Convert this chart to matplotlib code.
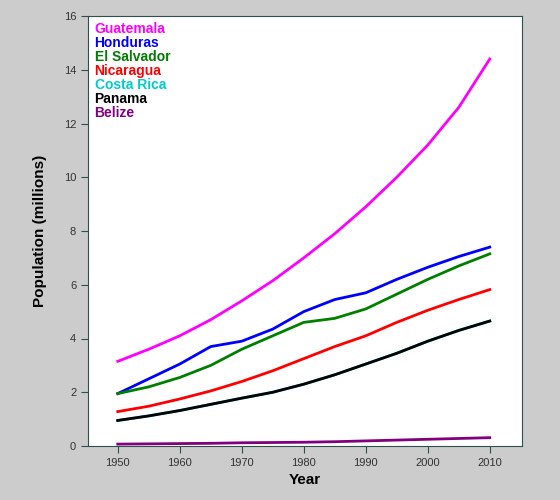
import matplotlib
matplotlib.use("Agg")
import matplotlib.pyplot as plt

years = [1950, 1955, 1960, 1965, 1970, 1975, 1980, 1985, 1990, 1995, 2000, 2005, 2010]
guatemala = [3.15, 3.6, 4.1, 4.7, 5.4, 6.15, 7.0, 7.9, 8.9, 10.0, 11.2, 12.6, 14.4]
honduras = [1.95, 2.5, 3.05, 3.7, 3.9, 4.35, 5.0, 5.45, 5.7, 6.2, 6.65, 7.05, 7.4]
el_salvador = [1.95, 2.2, 2.55, 3.0, 3.6, 4.1, 4.6, 4.75, 5.1, 5.65, 6.2, 6.7, 7.15]
nicaragua = [1.28, 1.48, 1.75, 2.05, 2.4, 2.8, 3.25, 3.7, 4.1, 4.6, 5.05, 5.45, 5.82]
costa_rica = [0.95, 1.12, 1.32, 1.55, 1.78, 2.0, 2.3, 2.65, 3.05, 3.45, 3.9, 4.3, 4.65]
panama = [0.95, 1.12, 1.32, 1.55, 1.78, 2.0, 2.3, 2.65, 3.05, 3.45, 3.9, 4.3, 4.65]
belize = [0.07, 0.08, 0.09, 0.1, 0.12, 0.13, 0.14, 0.16, 0.19, 0.22, 0.25, 0.28, 0.31]

series = [
    ("Guatemala", guatemala, "#ff00ff"),
    ("Honduras", honduras, "#0000ff"),
    ("El Salvador", el_salvador, "#008000"),
    ("Nicaragua", nicaragua, "#ff0000"),
    ("Costa Rica", costa_rica, "#00cccc"),
    ("Panama", panama, "#000000"),
    ("Belize", belize, "#800080"),
]

plt.rcParams["font.family"] = ["Liberation Sans", "DejaVu Sans"]
fig = plt.figure(figsize=(5.6, 5.0), dpi=100, facecolor="#cccccc")
ax = fig.add_axes([88 / 560, 54 / 500, 434 / 560, 430 / 500])
ax.set_facecolor("white")

for i, (name, vals, color) in enumerate(series):
    ax.plot(years, vals, color=color, lw=2)
    ax.text(0.015, 0.985 - i * 0.0325, name, transform=ax.transAxes, color=color,
            fontsize=10, fontweight="bold", va="top", ha="left")

ax.set_xlim(1945.2, 2015.2)
ax.set_ylim(0, 16)
ax.set_xticks(range(1950, 2011, 10))
ax.set_yticks(range(0, 17, 2))
for s in ax.spines.values():
    s.set_color("#2f4f4f")
ax.tick_params(colors="#2f4f4f", labelcolor="#333333", labelsize=8, direction="out", length=5)
ax.set_xlabel("Year", fontsize=11, fontweight="bold")
ax.set_ylabel("Population (millions)", fontsize=11, fontweight="bold", labelpad=12)

fig.savefig("out.png", dpi=100, facecolor=fig.get_facecolor())
